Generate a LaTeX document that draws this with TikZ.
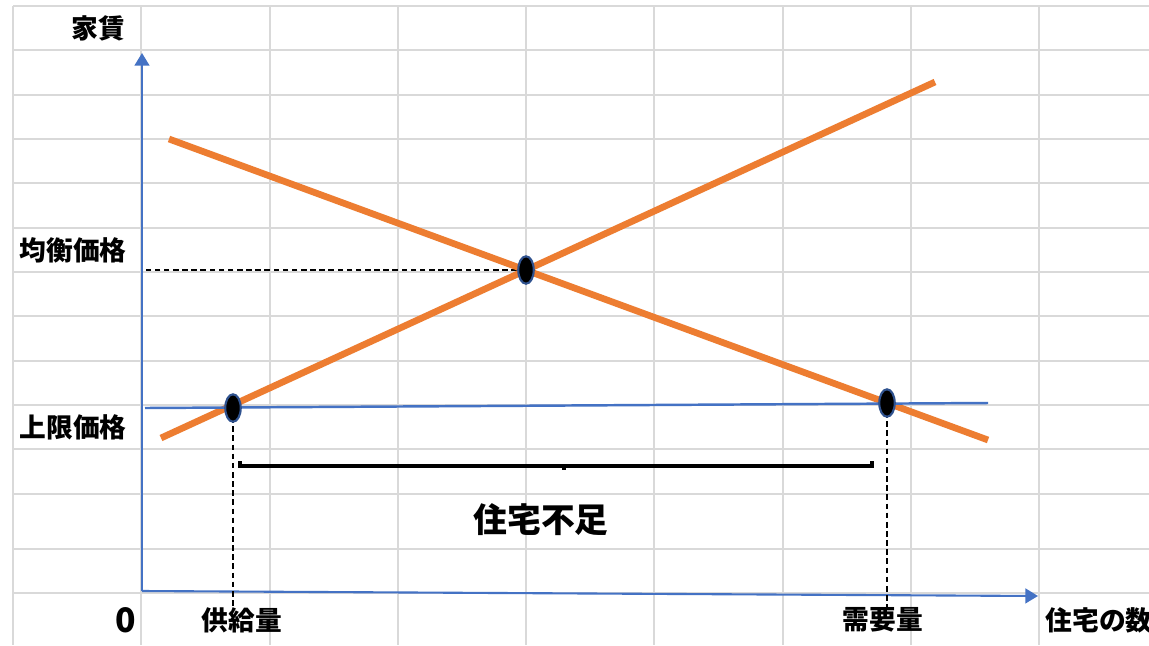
\documentclass[tikz,border=0pt]{standalone}
\usepackage{fontspec}
\newfontfamily\jpfont{Noto Sans CJK JP}
\usetikzlibrary{shapes.geometric,arrows.meta}
\definecolor{curveorange}{HTML}{ED7D31}
\definecolor{axisblue}{HTML}{4472C4}
\definecolor{dotblue}{HTML}{2F528F}
\definecolor{gridgray}{HTML}{D9D9D9}

\begin{document}
\begin{tikzpicture}[x=0.01cm,y=-0.01cm]
\tikzstyle{every node}+=[inner sep=0pt]
\tikzstyle{gridline}=[gridgray,line width=0.6pt]
\tikzstyle{axis}=[axisblue,line width=0.6pt,-{Triangle[width=4.2pt,length=3.6pt]}]
\tikzstyle{curve}=[curveorange,line width=1.9pt]
\tikzstyle{guide}=[black,line width=0.45pt,dash pattern=on 1.6pt off 1pt]
\tikzstyle{dot}=[ellipse,draw=dotblue,line width=0.6pt,fill=black,minimum width=4.4pt,minimum height=7.8pt]
\tikzstyle{lab}=[font=\jpfont\bfseries\fontsize{7.6}{8}\selectfont]
\useasboundingbox (0,0) rectangle (1149,645);
\fill[white] (0,0) rectangle (1149,645);
% grid of the sheet
\foreach \gx in {13,141,270,398,526,654,783,911,1039}
  \draw[gridline] (\gx,6) -- (\gx,645);
\foreach \gy in {6,50,95,139,183,228,272,316,361,405,449,494,549,593}
  \draw[gridline] (13,\gy) -- (1149,\gy);
% axes
\coordinate (origin) at (142,591);
\coordinate (ytip) at (142,53);
\coordinate (xtip) at (1038,596);
\draw[axis] (origin) -- (ytip);
\draw[axis] (origin) -- (xtip);
% labels
\node[lab,anchor=east] (rent) at (126,28) {家賃};
\node[lab] (eqprice) at (73,250) {均衡価格};
\node[lab] (capprice) at (73,427) {上限価格};
\node[font=\jpfont\bfseries\fontsize{9.6}{10}\selectfont] (zero) at (126,620) {0};
\node[lab] (qslab) at (242,620) {供給量};
\node[lab] (qdlab) at (883,620) {需要量};
\node[lab,anchor=west] (xname) at (1045,620) {住宅の数};
\node[font=\jpfont\bfseries\fontsize{9.6}{10}\selectfont] (short) at (541,520) {住宅不足};
% curves
\coordinate (d1) at (169,139);
\coordinate (d2) at (988,440);
\coordinate (s1) at (161,438);
\coordinate (s2) at (935,82);
\coordinate (c1) at (145,408);
\coordinate (c2) at (988,403);
\coordinate (eqpt) at (526,270);
\coordinate (qspt) at (233,408);
\coordinate (qdpt) at (887,403);
% guide lines
\draw[guide] (eqpt) -- (eqpt -| origin);
\draw[guide] (qspt) -- (qspt |- qslab.north);
\draw[guide] (qdpt) -- (qdpt |- qdlab.north);
\draw[curve] (d1) -- (d2);
\draw[curve] (s1) -- (s2);
\draw[axisblue,line width=0.7pt] (c1) -- (c2);
\node[dot] (eq) at (eqpt) {};
\node[dot] (qs) at (qspt) {};
\node[dot] (qd) at (qdpt) {};
% shortage bracket
\draw[black,line width=0.9pt] (240,461) -- (240,466) -- (872,466) -- (872,461);
\draw[black,line width=0.9pt] (564,466) -- (564,470);
\end{tikzpicture}
\end{document}
